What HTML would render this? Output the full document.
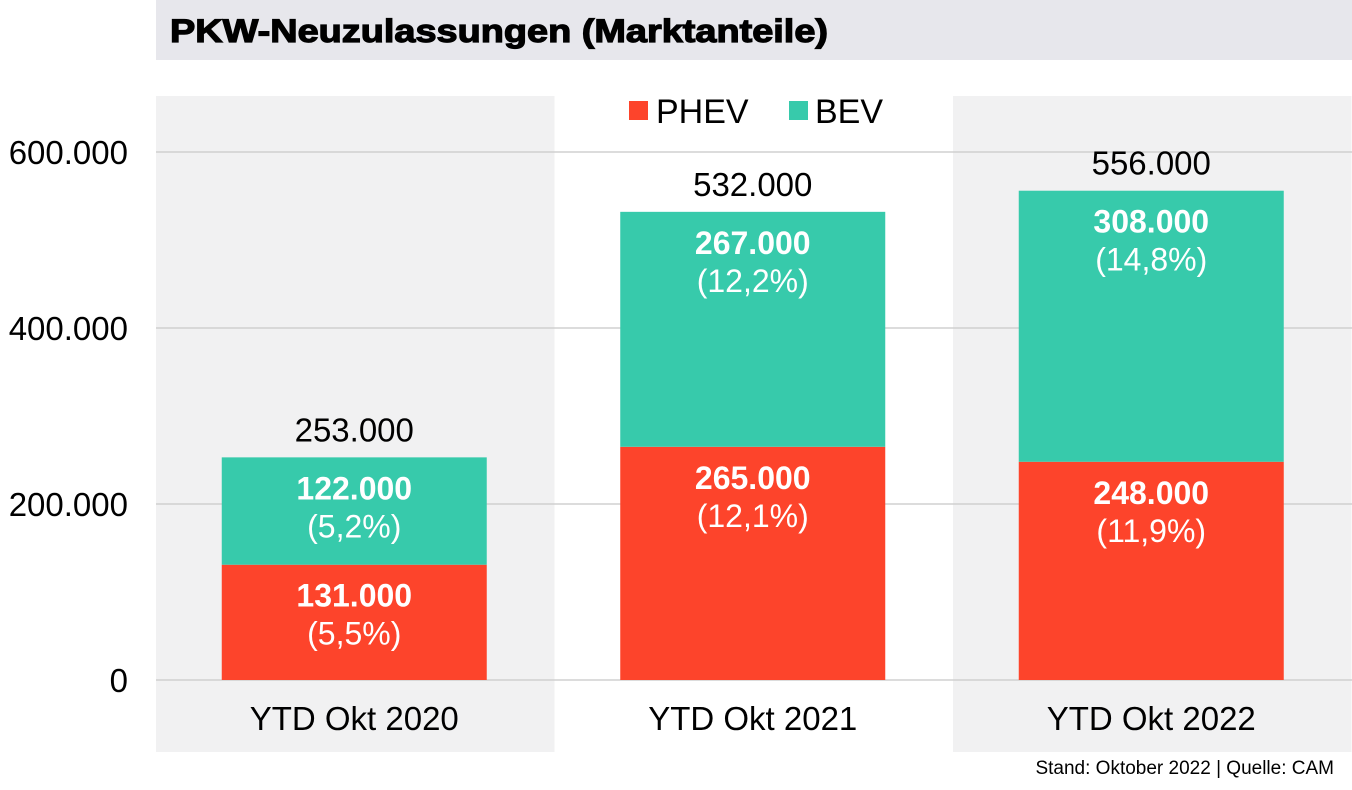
<!DOCTYPE html>
<html><head><meta charset="utf-8"><style>
html,body{margin:0;padding:0;background:#fff;}
body{width:1352px;height:785px;overflow:hidden;font-family:"Liberation Sans",Arial,sans-serif;}
</style></head><body>
<svg width="1352" height="785" xmlns="http://www.w3.org/2000/svg" font-family="Liberation Sans, Arial, sans-serif">
<rect x="156" y="0" width="1196" height="60" fill="#e7e7ec"/>
<text x="170" y="42" font-size="32" font-weight="bold" fill="#000" stroke="#000" stroke-width="1.2" textLength="658" lengthAdjust="spacingAndGlyphs">PKW-Neuzulassungen (Marktanteile)</text>
<g id="bands"></g>
<g id="grid"></g>
<g id="bars"></g>
<g>
<rect x="629" y="101" width="19" height="19" fill="#fd442b"/>
<text x="656" y="123" font-size="34" fill="#000">PHEV</text>
<rect x="789" y="101" width="19" height="19" fill="#37caab"/>
<text x="815" y="123" font-size="34" fill="#000">BEV</text>
</g>
<text x="1334" y="774" font-size="19" text-anchor="end" fill="#000">Stand: Oktober 2022 | Quelle: CAM</text>
</svg>
<script>
const categories = ["YTD Okt 2020","YTD Okt 2021","YTD Okt 2022"];
const phev = [131000,265000,248000];
const bev = [122000,267000,308000];
const phevPct = ["(5,5%)","(12,1%)","(11,9%)"];
const bevPct = ["(5,2%)","(12,2%)","(14,8%)"];
const yTicks = [0,200000,400000,600000];
const yTickLabels = ["0","200.000","400.000","600.000"];

const NS="http://www.w3.org/2000/svg";
const y0=680, pxPer=176/200000;
const y=v=>y0-v*pxPer;
const bandX0=156, bandW=398.5, barW=265;
const cx=i=>bandX0+bandW*(i+0.5)-1;
const fmt=v=>v.toLocaleString('de-DE');
function mk(tag,attrs,parent,txt){const e=document.createElementNS(NS,tag);for(const k in attrs)e.setAttribute(k,attrs[k]);if(txt!==undefined)e.textContent=txt;document.getElementById(parent).appendChild(e);return e;}

categories.forEach((c,i)=>{
  if(i!==1){const b=mk('rect',{x:bandX0+bandW*i,y:96,width:bandW,height:656,fill:'#f1f1f2'},'bands');
  
  }
});
yTicks.forEach((t,i)=>{
  const l=mk('line',{x1:156,x2:1352,y1:y(t),y2:y(t),stroke:'#d0d0d0','stroke-width':1.5},'grid');
  
  
  const tx=mk('text',{x:128,y:y(t)+12,'font-size':33,'text-anchor':'end',fill:'#000'},'grid',yTickLabels[i]);
  
  
});
categories.forEach((c,i)=>{
  const x=cx(i)-barW/2, m=cx(i);
  const pTop=y(phev[i]), bTop=y(phev[i]+bev[i]);
  const r1=mk('rect',{x:x,y:pTop,width:barW,height:y0-pTop,fill:'#fd442b'},'bars');
  
  
  const r2=mk('rect',{x:x,y:bTop,width:barW,height:pTop-bTop,fill:'#37caab'},'bars');
  
  
  [[pTop,phev[i],phevPct[i],'phev'],[bTop,bev[i],bevPct[i],'bev']].forEach(s=>{
    const a=mk('text',{x:m,y:s[0]+42,'font-size':32,'font-weight':'bold','text-anchor':'middle',fill:'#fff'},'bars',fmt(s[1]));
    
    
    const b=mk('text',{x:m,y:s[0]+80,'font-size':32,'text-anchor':'middle',fill:'#fff'},'bars',s[2]);
    
    
  });
  const t=mk('text',{x:m,y:bTop-16,'font-size':33,'text-anchor':'middle',fill:'#000'},'bars',fmt(phev[i]+bev[i]));
  
  
  const cl=mk('text',{x:m,y:730,'font-size':33,'text-anchor':'middle',fill:'#000'},'bars',c);
  
  
});
</script>
</body></html>
